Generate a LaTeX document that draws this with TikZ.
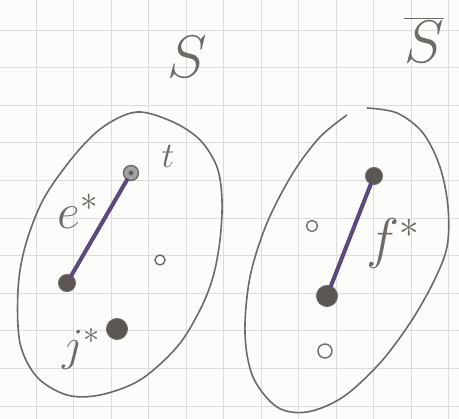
\RequirePackage{fix-cm}
\documentclass[tikz,border=0pt]{standalone}
\usepackage{amsmath}
\usepackage{tikz}
\usetikzlibrary{positioning}
\definecolor{pencil}{HTML}{6E6A66}
\definecolor{lead}{HTML}{5A5652}
\definecolor{violet}{HTML}{5B3C9E}
\definecolor{gridgray}{HTML}{DCDCDA}
\definecolor{paper}{HTML}{FCFCFA}

\begin{document}
\begin{tikzpicture}[
  x=1pt, y=-1pt,
  gridline/.style={gridgray, line width=0.6pt},
  blob/.style={pencil, line width=1.6pt},
  vtx/.style={circle, fill=lead, draw=pencil, line width=1pt, inner sep=0pt, minimum size=#1},
  ring/.style={circle, draw=pencil, line width=1.4pt, inner sep=0pt, minimum size=#1},
  edgeline/.style={violet, line width=4pt, line cap=round},
  lbl/.style={pencil, inner sep=0pt, font=\fontsize{#1}{#1}\selectfont},
]

% Paper and grid
\fill[paper] (0,0) rectangle (459,419);
\useasboundingbox (0,0) rectangle (459,419);
\foreach \i in {0,...,11} \draw[gridline] (36+37.5*\i,0) -- (36+37.5*\i,419);
\foreach \i in {0,...,10} \draw[gridline] (0,30+37.6*\i) -- (459,30+37.6*\i);

% Set labels
\node[lbl=60] (S) at (187,57) {$S$};
\node[lbl=60] (Sbar) at (424,40) {$\overline{S}$};

% Left set S
\draw[blob] plot[smooth cycle, tension=0.55] coordinates {(137,112) (173,122) (200,140) (217,167) (222,200) (220,240) (213,277) (200,310) (177,347) (140,380) (100,395) (67,395) (37,377) (20,343) (18,290) (25,247) (43,200) (73,157) (103,127)};
\node[ring=15pt, fill=lead!55] (t) at (131,173) {};
\node[vtx=4pt] at (t) {};
\node[vtx=17pt] (u) at (67,283) {};
\node[vtx=21pt] (j) at (117,329) {};
\node[ring=10pt] (a) at (160,260) {};
\draw[edgeline] (u) -- (t);
\draw[lead, line width=1.4pt] (u) -- (t);

\node[lbl=50] (estar) at (78,211) {$e^*$};
\node[lbl=36] (tl) at (168,156) {$t$};
\node[lbl=46] (jstar) at (81,349) {$j^*$};

% Right set S-bar
\draw[blob] plot[smooth, tension=0.55] coordinates {(367,108) (397,113) (423,133) (440,167) (448,207) (447,247) (433,283) (410,323) (380,363) (343,397) (307,412) (277,407) (253,377) (245,333) (250,277) (267,223) (293,173) (320,137) (347,115)};
\node[vtx=17pt] (v) at (374,176) {};
\node[vtx=21pt] (w) at (327,296) {};
\node[ring=11pt] (b) at (312,226) {};
\node[ring=14pt] (c) at (325,351) {};
\draw[edgeline] (w) -- (v);
\draw[lead, line width=1.4pt] (w) -- (v);

\node[lbl=56] (fstar) at (393,244) {$f^*$};

\end{tikzpicture}
\end{document}
